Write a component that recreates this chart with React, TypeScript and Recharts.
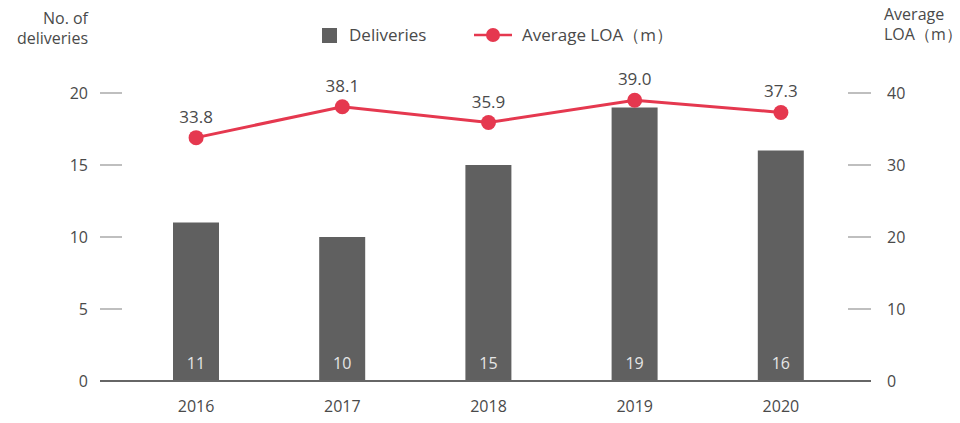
import { ComposedChart, Bar, Line, XAxis, YAxis, LabelList, Legend } from 'recharts';

const years = ['2016', '2017', '2018', '2019', '2020'];
const deliveries = [11, 10, 15, 19, 16];
const avgLoa = [33.8, 38.1, 35.9, 39.0, 37.3];
const leftTicks = [0, 5, 10, 15, 20];
const rightTicks = [0, 10, 20, 30, 40];

const data = years.map((year, i) => ({
    year,
    deliveries: deliveries[i],
    loa: avgLoa[i],
}));

const FONT = '"Open Sans", Lato, sans-serif';
const TEXT = '#4a4a4a';
const RED = '#e5384f';
const BAR = '#606060';

// the tick x that recharts hands over sits tickSize + tickMargin (8px) off the plot edge
const LeftTick = (props: any) => {
    const { x, y, payload } = props;
    const edge = x + 8;
    return (
        <g>
            {payload.value === 0 && (
                <line x1={edge} x2={edge + 771} y1={y} y2={y} stroke="#666" strokeWidth={2} />
            )}
            {payload.value !== 0 && (
                <line x1={edge} x2={edge + 22} y1={y} y2={y} stroke="#aaa" strokeWidth={1.5} />
            )}
            <text x={edge - 12} y={y} dy={6} textAnchor="end" fill={TEXT} fontSize={16} fontFamily={FONT}>
                {payload.value}
            </text>
        </g>
    );
};

const RightTick = (props: any) => {
    const { x, y, payload } = props;
    const edge = x - 8;
    return (
        <g>
            {payload.value !== 0 && (
                <line x1={edge - 23} x2={edge} y1={y} y2={y} stroke="#aaa" strokeWidth={1.5} />
            )}
            <text x={edge + 16} y={y} dy={6} textAnchor="start" fill={TEXT} fontSize={16} fontFamily={FONT}>
                {payload.value}
            </text>
        </g>
    );
};

const legendContent = () => (
    <div style={{ position: 'relative', height: 40, fontFamily: FONT, fontSize: 17, color: TEXT }}>
        <div style={{ position: 'absolute', left: 322, top: 28, width: 15, height: 15, background: BAR }} />
        <div style={{ position: 'absolute', left: 349, top: 23 }}>Deliveries</div>
        <svg style={{ position: 'absolute', left: 474, top: 26 }} width={40} height={18}>
            <line x1={0} x2={38} y1={9} y2={9} stroke={RED} strokeWidth={2.5} />
            <circle cx={19} cy={9} r={7} fill={RED} />
        </svg>
        <div style={{ position: 'absolute', left: 522, top: 23 }}>Average LOA（m）</div>
    </div>
);

export default function App() {
    return (
        <div style={{ position: 'absolute', left: 0, top: 0, width: 960, height: 423 }}>
            <ComposedChart
                width={960}
                height={423}
                data={data}
                margin={{ top: 53, right: 0, bottom: 0, left: 0 }}
            >
                <XAxis
                    dataKey="year"
                    padding={{ left: 23, right: 17 }}
                    axisLine={false}
                    tickLine={false}
                    height={42}
                    tickMargin={14}
                    tick={{ fill: TEXT, fontSize: 16, fontFamily: FONT }}
                />
                <YAxis
                    yAxisId="left"
                    width={100}
                    domain={[0, 20]}
                    ticks={leftTicks}
                    axisLine={false}
                    tickLine={false}
                    tick={<LeftTick />}
                />
                <YAxis
                    yAxisId="right"
                    orientation="right"
                    width={89}
                    domain={[0, 40]}
                    ticks={rightTicks}
                    axisLine={false}
                    tickLine={false}
                    tick={<RightTick />}
                />
                <Legend verticalAlign="top" align="left" wrapperStyle={{ top: 0, left: 0, width: 960 }} content={legendContent} />
                <Bar yAxisId="left" dataKey="deliveries" fill={BAR} barSize={46} isAnimationActive={false}>
                    <LabelList
                        dataKey="deliveries"
                        position="insideBottom"
                        offset={12}
                        fill="#e6e6e6"
                        fontSize={16}
                        fontFamily={FONT}
                    />
                </Bar>
                <Line
                    yAxisId="right"
                    dataKey="loa"
                    stroke={RED}
                    strokeWidth={3}
                    dot={{ r: 7.5, fill: RED, stroke: RED, strokeWidth: 0 }}
                    activeDot={false}
                    isAnimationActive={false}
                >
                    <LabelList
                        dataKey="loa"
                        position="top"
                        offset={15}
                        fill={TEXT}
                        fontSize={17}
                        fontFamily={FONT}
                        formatter={(v: any) => Number(v).toFixed(1)}
                    />
                </Line>
            </ComposedChart>
            <div
                style={{
                    position: 'absolute', right: 872, top: 8, textAlign: 'right',
                    fontFamily: FONT, fontSize: 16, lineHeight: '20px', color: TEXT,
                }}
            >
                No. of<br />deliveries
            </div>
            <div
                style={{
                    position: 'absolute', left: 884, top: 4, textAlign: 'left',
                    fontFamily: FONT, fontSize: 16, lineHeight: '20px', color: TEXT, whiteSpace: 'nowrap',
                }}
            >
                Average<br />LOA（m）
            </div>
        </div>
    );
}
